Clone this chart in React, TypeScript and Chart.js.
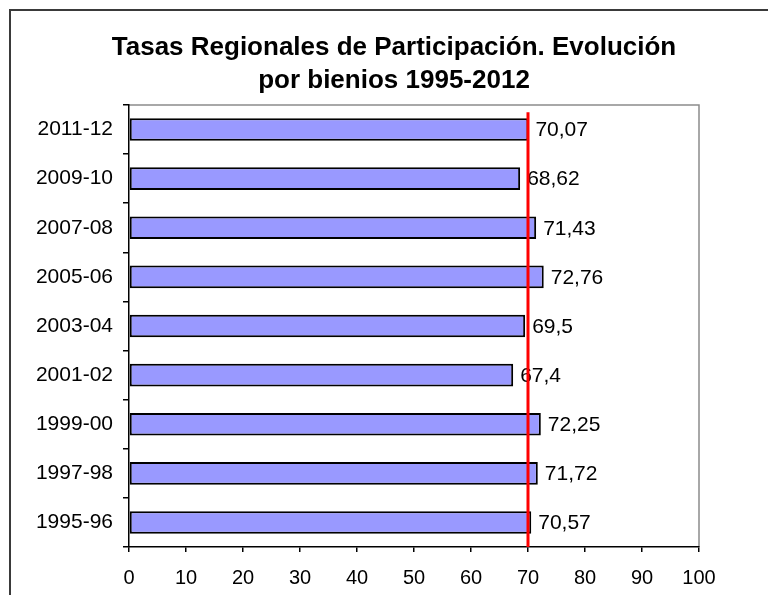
import React, { useEffect, useRef } from "react";
import { Chart, registerables } from "chart.js";

Chart.register(...registerables);

const titleLines = ["Tasas Regionales de Participación. Evolución", "por bienios 1995-2012"];
const categories = ["2011-12", "2009-10", "2007-08", "2005-06", "2003-04", "2001-02", "1999-00", "1997-98", "1995-96"];
const values = [70.07, 68.62, 71.43, 72.76, 69.5, 67.4, 72.25, 71.72, 70.57];
const referenceLevel = 70;
const xMin = 0;
const xMax = 100;
const xStep = 10;

const FONT = "'Liberation Sans', Arial, sans-serif";

const decorPlugin = {
  id: "decor",
  beforeDraw(chart: any) {
    const ctx = chart.ctx;
    ctx.save();
    ctx.fillStyle = "#ffffff";
    ctx.fillRect(0, 0, chart.width, chart.height);
    ctx.strokeStyle = "#3a3a3a";
    ctx.lineWidth = 2;
    ctx.strokeRect(10, 10, chart.width + 50, chart.height + 50);
    const a = chart.chartArea;
    ctx.strokeStyle = "#8c8c8c";
    ctx.lineWidth = 1.5;
    ctx.beginPath();
    ctx.moveTo(a.left, a.top);
    ctx.lineTo(a.right, a.top);
    ctx.lineTo(a.right, a.bottom);
    ctx.stroke();
    // title
    ctx.fillStyle = "#000";
    ctx.font = `bold 26px ${FONT}`;
    ctx.textAlign = "center";
    ctx.textBaseline = "alphabetic";
    titleLines.forEach((line, i) => {
      ctx.fillText(line, 394, 55 + i * 33);
    });
    ctx.restore();
  },
  afterDatasetsDraw(chart: any) {
    const ctx = chart.ctx;
    const meta = chart.getDatasetMeta(0);
    ctx.save();
    ctx.font = `21px ${FONT}`;
    ctx.fillStyle = "#000";
    ctx.textAlign = "left";
    ctx.textBaseline = "middle";
    meta.data.forEach((bar: any, i: number) => {
      const label = String(values[i]).replace(".", ",");
      ctx.fillText(label, bar.x + 7, bar.y + 1);
    });
    const xs = chart.scales.x;
    const ys = chart.scales.y;
    const x = xs.getPixelForValue(referenceLevel);
    ctx.strokeStyle = "#ff0000";
    ctx.lineWidth = 3;
    ctx.beginPath();
    ctx.moveTo(x, ys.getPixelForValue(-0.35));
    ctx.lineTo(x, chart.chartArea.bottom);
    ctx.stroke();
    ctx.restore();
  },
};

export default function App() {
  const ref = useRef<HTMLCanvasElement>(null);
  useEffect(() => {
    if (!ref.current) return;
    const chart = new Chart(ref.current, {
      type: "bar",
      data: {
        labels: categories,
        datasets: [
          {
            data: values,
            backgroundColor: "#9999ff",
            borderColor: "#000000",
            borderWidth: 2,
            borderSkipped: false,
            barPercentage: 0.46,
            categoryPercentage: 1,
          },
        ],
      },
      options: {
        indexAxis: "y",
        animation: false,
        responsive: true,
        maintainAspectRatio: false,
        layout: { padding: { left: 0, right: 69, top: 105, bottom: 0 } },
        plugins: {
          legend: { display: false },
          tooltip: { enabled: false },
          title: { display: false },
        },
        scales: {
          x: {
            type: "linear",
            min: xMin,
            max: xMax,
            ticks: { stepSize: xStep, color: "#000", font: { family: FONT, size: 20 }, padding: 14 },
            grid: { drawOnChartArea: false, tickLength: 5, color: "#000", lineWidth: 1.5 },
            border: { color: "#000", width: 1.5 },
            afterFit: (s: any) => {
              s.height = 48;
            },
          },
          y: {
            ticks: { color: "#000", font: { family: FONT, size: 21 }, padding: 10 },
            grid: { drawOnChartArea: false, tickLength: 6, color: "#000", lineWidth: 1.5, offset: true },
            border: { color: "#000", width: 1.5 },
            afterFit: (s: any) => {
              s.width = 129;
            },
          },
        },
      },
      plugins: [decorPlugin],
    });
    return () => chart.destroy();
  }, []);
  return (
    <div style={{ position: "absolute", left: 0, top: 0, width: 768, height: 595 }}>
      <canvas ref={ref} />
    </div>
  );
}
